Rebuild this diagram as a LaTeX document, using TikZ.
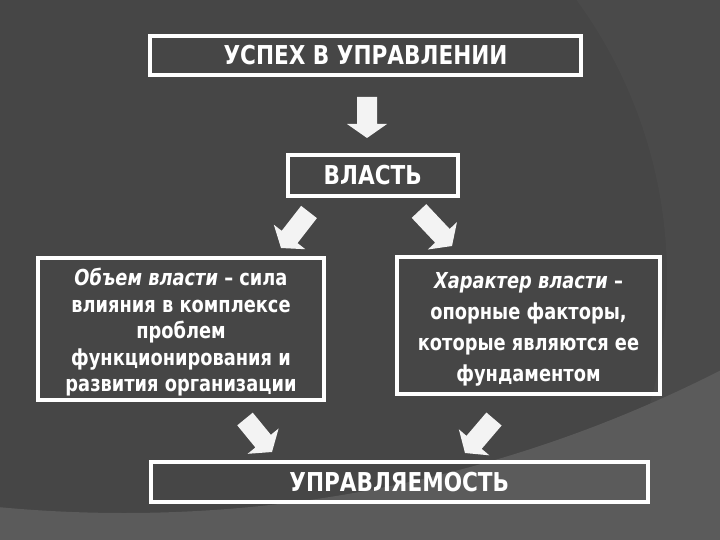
\documentclass[tikz,border=0pt]{standalone}
\usepackage{fontspec}
\newfontfamily\dvtitle[FakeStretch=0.83]{DejaVu Sans}
\newfontfamily\dvbody[FakeStretch=0.81]{DejaVu Sans}
\usetikzlibrary{calc}
\definecolor{bgmain}{HTML}{464646}
\definecolor{bgtr}{HTML}{4A4A4A}
\definecolor{bgbot}{HTML}{5B5B5B}
\definecolor{arrw}{HTML}{F3F3F3}
\tikzset{
  box/.style={draw=white, line width=4pt, inner sep=0pt, text=white, align=center},
  titlefont/.style={font=\dvtitle\bfseries\fontsize{26}{30}\selectfont},
  bodyL/.style={font=\dvbody\bfseries\fontsize{22}{26.5}\selectfont},
  bodyR/.style={font=\dvbody\bfseries\fontsize{22}{31}\selectfont},
  arrowfill/.style={fill=arrw}
}
\newcommand\blockarr[2]{%
  \fill[arrowfill] let \p1=(#1), \p2=(#2),
    \n1={atan2(\y2-\y1,\x2-\x1)}, \n2={veclen(\x2-\x1,\y2-\y1)-14pt} in
    ($(\p1)+({\n1+90}:10pt)$) --
    ($(\p1)+(\n1:\n2)+({\n1+90}:10pt)$) --
    ($(\p1)+(\n1:\n2)+({\n1+90}:20pt)$) --
    (\p2) --
    ($(\p1)+(\n1:\n2)+({\n1-90}:20pt)$) --
    ($(\p1)+(\n1:\n2)+({\n1-90}:10pt)$) --
    ($(\p1)+({\n1-90}:10pt)$) -- cycle;}
\newcommand\topstrut{\rule{0pt}{24pt}}
\begin{document}
\begin{tikzpicture}[x=1pt,y=-1pt]
\useasboundingbox (0,0) rectangle (720,540);
\fill[bgmain] (0,0) rectangle (720,540);
\begin{scope}
  \clip (0,0) rectangle (720,540);
  \fill[bgtr, even odd rule] (-10,-10) rectangle (730,550) (195,278) circle (472);
  \fill[bgbot, even odd rule] (-10,-10) rectangle (730,550) (124,-803) circle (1316);
\end{scope}

\node[box, titlefont, minimum width=431pt, minimum height=39pt] (top) at (365.5,55.5) {УСПЕХ В УПРАВЛЕНИИ};
\node[box, titlefont, minimum width=169.5pt, minimum height=41pt] (power) at (372.75,175.5) {ВЛАСТЬ};
\node[box, bodyL, minimum width=286pt, minimum height=142pt] (vol) at (181,329)
  {\topstrut{\itshape Объем власти} – сила\\влияния в комплексе\\проблем\\функционирования и\\развития организации};
\node[box, bodyR, minimum width=263pt, minimum height=137pt] (char) at (528.5,325.5)
  {\topstrut{\itshape Характер власти} –\\опорные факторы,\\которые являются ее\\фундаментом};
\node[box, titlefont, minimum width=497.5pt, minimum height=39.5pt] (ctrl) at (399.25,481.75) {УПРАВЛЯЕМОСТЬ};

\coordinate (a0t) at (367,97);  \coordinate (a0h) at (367,138);
\coordinate (a1t) at (309,212); \coordinate (a1h) at (281,248);
\coordinate (a2t) at (419,211); \coordinate (a2h) at (452,246);
\coordinate (a3t) at (245,419); \coordinate (a3h) at (272,452);
\coordinate (a4t) at (494,419); \coordinate (a4h) at (465,453);
\blockarr{a0t}{a0h}
\blockarr{a1t}{a1h}
\blockarr{a2t}{a2h}
\blockarr{a3t}{a3h}
\blockarr{a4t}{a4h}
\end{tikzpicture}
\end{document}
